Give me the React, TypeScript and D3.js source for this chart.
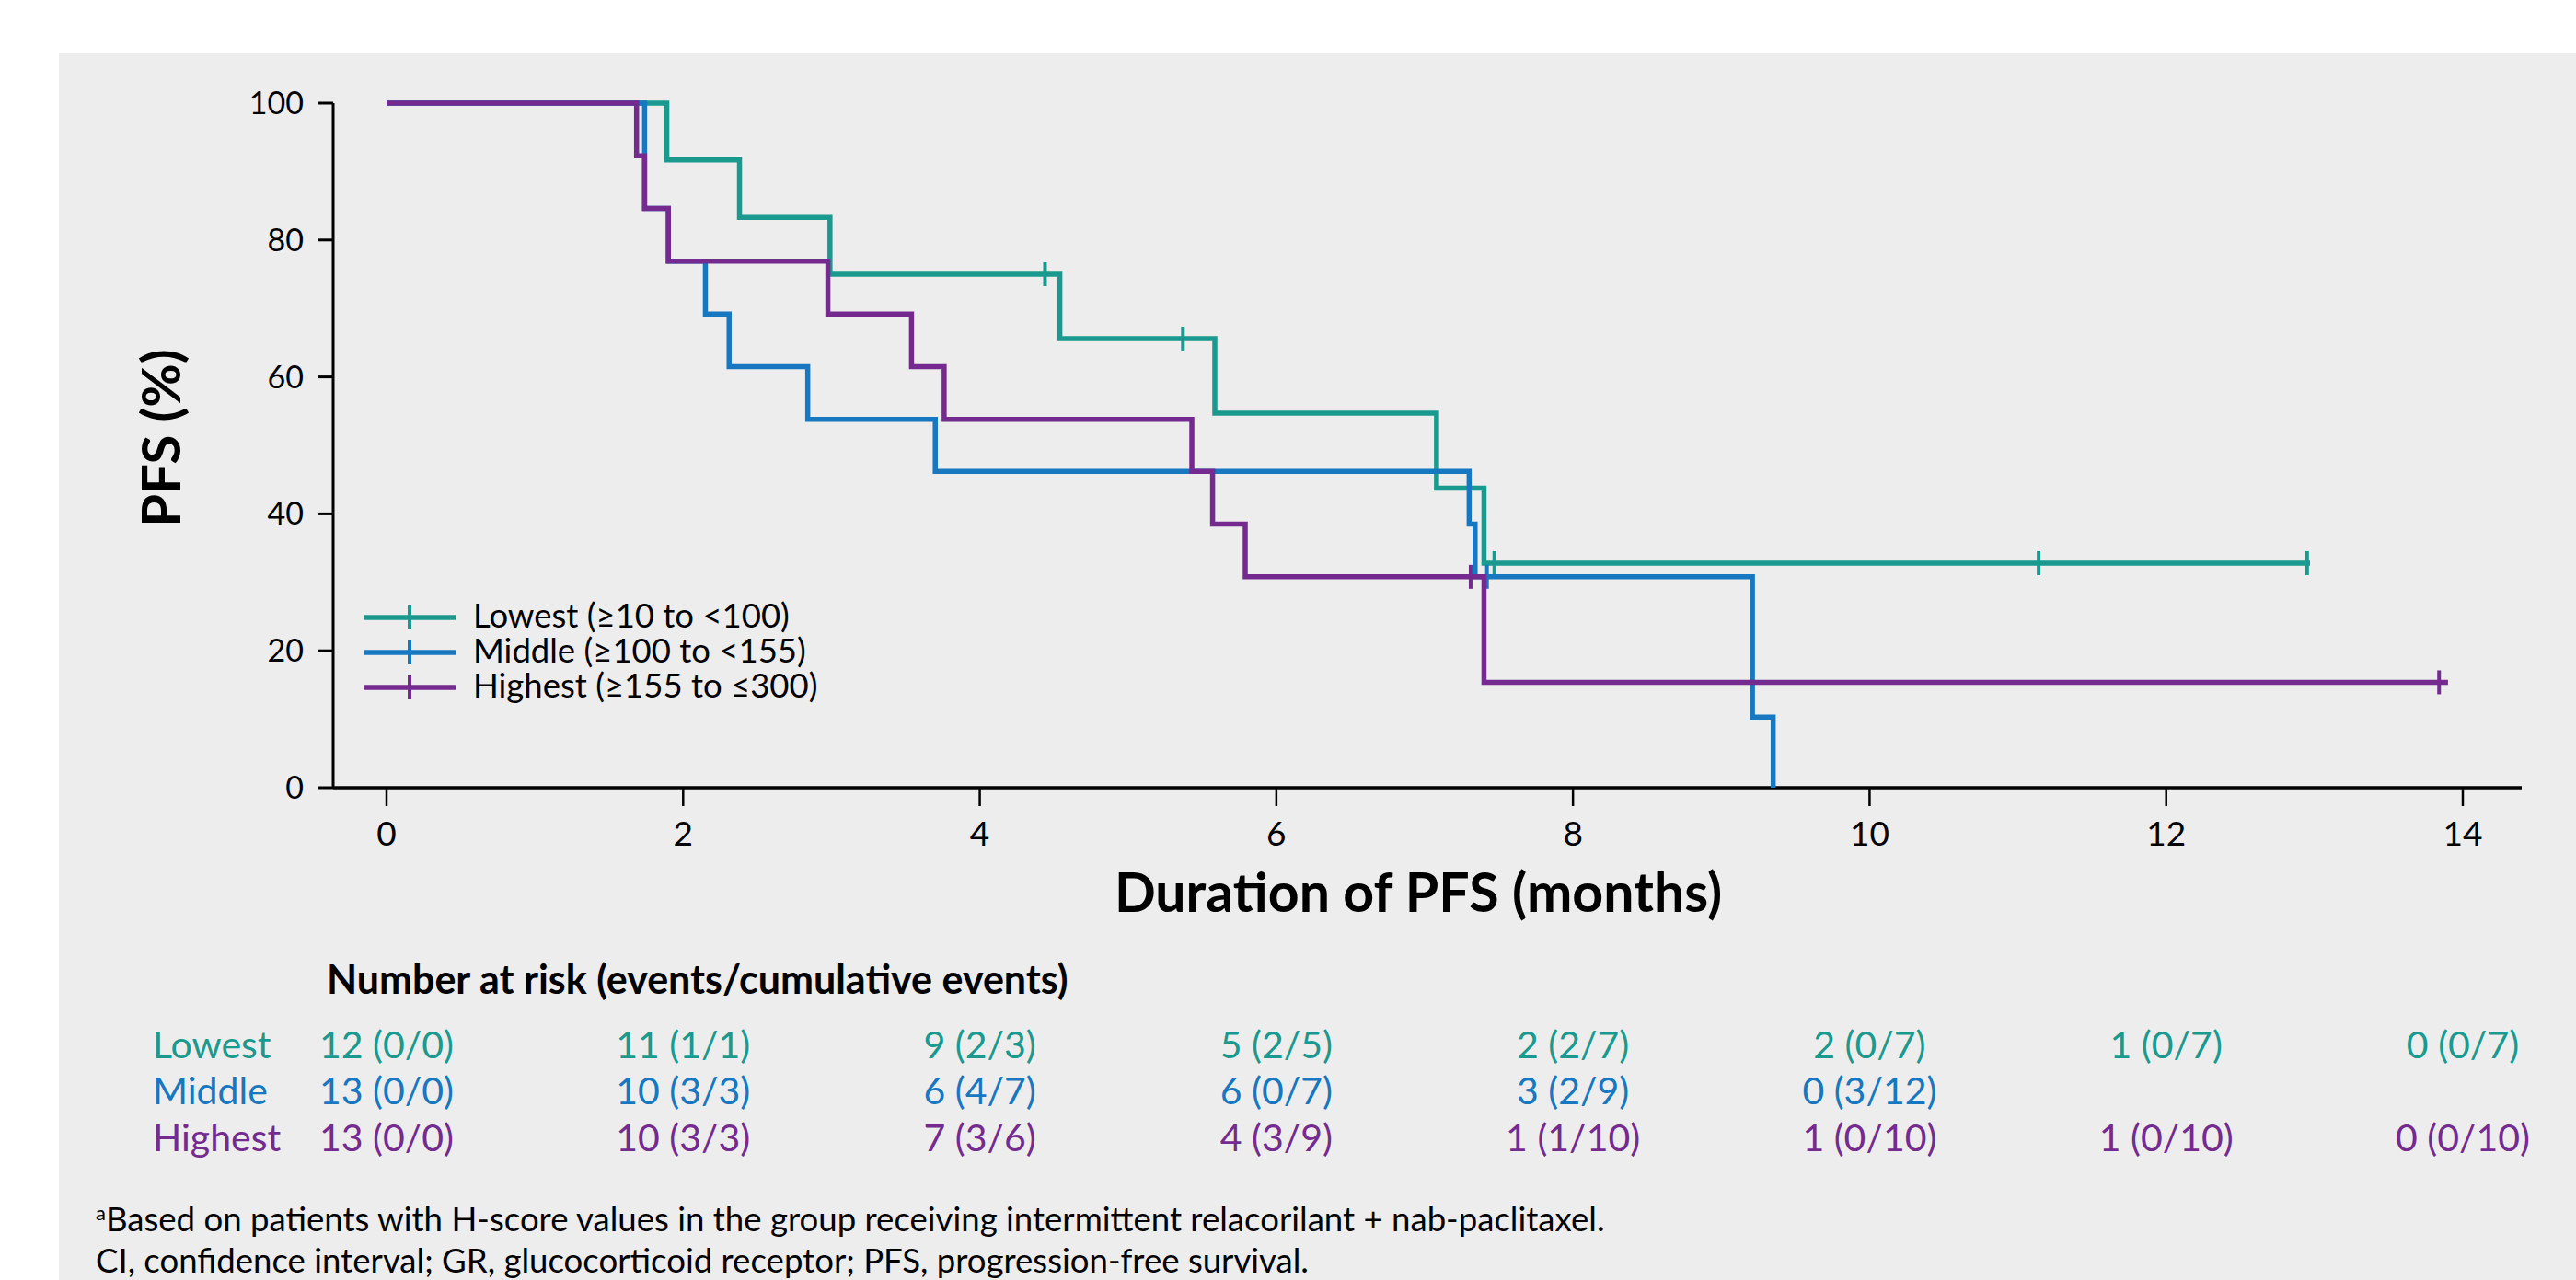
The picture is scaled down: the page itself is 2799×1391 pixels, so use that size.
import React from "react";
import * as d3 from "d3";

const W = 2799;
const H = 1391;

// ---- data ----
const xTicks = [0, 2, 4, 6, 8, 10, 12, 14];
const yTicks = [0, 20, 40, 60, 80, 100];

const lowestTimes = [0, 1.89, 2.38, 2.99, 4.54, 5.585, 7.08, 7.4, 12.97];
const lowestSurv = [100, 91.7, 83.3, 75.0, 65.6, 54.7, 43.75, 32.8, 32.8];
const lowestCensor = [4.44, 5.37, 7.47, 11.14, 12.95];

const middleTimes = [0, 1.74, 1.9, 2.15, 2.31, 2.84, 3.7, 7.3, 7.34, 9.21, 9.35];
const middleSurv = [100, 84.6, 76.9, 69.2, 61.5, 53.8, 46.2, 38.5, 30.8, 10.3, 0];
const middleCensor = [7.42];

const highestTimes = [0, 1.686, 1.74, 1.9, 2.976, 3.54, 3.76, 5.43, 5.57, 5.79, 7.4, 13.9];
const highestSurv = [100, 92.3, 84.6, 76.9, 69.2, 61.5, 53.8, 46.2, 38.5, 30.8, 15.4, 15.4];
const highestCensor = [7.31, 13.84];

const groupNames = ["Lowest", "Middle", "Highest"];
const legendLabels = ["Lowest (≥10 to <100)", "Middle (≥100 to <155)", "Highest (≥155 to ≤300)"];

const lowestRisk = ["12 (0/0)", "11 (1/1)", "9 (2/3)", "5 (2/5)", "2 (2/7)", "2 (0/7)", "1 (0/7)", "0 (0/7)"];
const middleRisk = ["13 (0/0)", "10 (3/3)", "6 (4/7)", "6 (0/7)", "3 (2/9)", "0 (3/12)"];
const highestRisk = ["13 (0/0)", "10 (3/3)", "7 (3/6)", "4 (3/9)", "1 (1/10)", "1 (0/10)", "1 (0/10)", "0 (0/10)"];

const colors = ["#1A9A8F", "#1777C0", "#742A8E"];

const FONT = "Lato, 'Open Sans', sans-serif";

export default function App() {
  const x = d3.scaleLinear().domain([0, 14]).range([420, 2676]);
  const y = d3.scaleLinear().domain([0, 100]).range([856, 112]);

  const series = [
    { times: lowestTimes, surv: lowestSurv, censor: lowestCensor },
    { times: middleTimes, surv: middleSurv, censor: middleCensor },
    { times: highestTimes, surv: highestSurv, censor: highestCensor },
  ];
  const riskRows = [lowestRisk, middleRisk, highestRisk];

  const line = d3
    .line<[number, number]>()
    .x((d) => x(d[0]))
    .y((d) => y(d[1]))
    .curve(d3.curveStepAfter);

  const survAt = (times: number[], surv: number[], t: number) => {
    let v = surv[0];
    for (let i = 0; i < times.length; i++) if (times[i] <= t) v = surv[i];
    return v;
  };

  const axisLeftX = 362;
  const axisRightX = 2740;
  const legendY = [671, 709, 747];
  const riskY = [1150, 1200, 1251];

  return (
    <svg
      width={W}
      height={H}
      style={{ position: "absolute", left: 0, top: 0, fontFamily: FONT }}
    >
      <rect x={0} y={0} width={W} height={H} fill="#FFFFFF" />
      <rect x={64} y={58} width={W - 64} height={H - 58} fill="#EDEDED" />

      {/* y axis */}
      <line x1={axisLeftX} x2={axisLeftX} y1={y(100)} y2={y(0)} stroke="#000" strokeWidth={3} />
      {yTicks.map((t) => (
        <g key={"yt" + t}>
          <line x1={345} x2={axisLeftX} y1={y(t)} y2={y(t)} stroke="#000" strokeWidth={3} />
          <text x={330} y={y(t) + 12} textAnchor="end" fontSize={34} fill="#000">
            {t}
          </text>
        </g>
      ))}

      {/* x axis */}
      <line x1={axisLeftX} x2={axisRightX} y1={y(0)} y2={y(0)} stroke="#000" strokeWidth={3.5} />
      {xTicks.map((t) => (
        <g key={"xt" + t}>
          <line x1={x(t)} x2={x(t)} y1={y(0)} y2={y(0) + 20} stroke="#000" strokeWidth={2.5} />
          <text x={x(t)} y={919} textAnchor="middle" fontSize={37} fill="#000">
            {t}
          </text>
        </g>
      ))}

      {/* axis titles */}
      <text x={1541} y={991} textAnchor="middle" fontSize={59} fontWeight="bold" fill="#000">
        Duration of PFS (months)
      </text>
      <text
        transform={`translate(196,476) rotate(-90)`}
        textAnchor="middle"
        fontSize={58}
        fontWeight="bold"
        fill="#000"
      >
        PFS (%)
      </text>

      {/* curves */}
      {series.map((s, i) => {
        const pts: [number, number][] = s.times.map((t, j) => [t, s.surv[j]]);
        return (
          <g key={"s" + i}>
            <path d={line(pts) || ""} fill="none" stroke={colors[i]} strokeWidth={5.5} />
            {s.censor.map((c, k) => {
              const v = survAt(s.times, s.surv, c);
              return (
                <line
                  key={k}
                  x1={x(c)}
                  x2={x(c)}
                  y1={y(v) - 13}
                  y2={y(v) + 13}
                  stroke={colors[i]}
                  strokeWidth={4}
                />
              );
            })}
          </g>
        );
      })}

      {/* legend */}
      {legendLabels.map((lab, i) => (
        <g key={"lg" + i}>
          <line x1={396} x2={495} y1={legendY[i]} y2={legendY[i]} stroke={colors[i]} strokeWidth={5.5} />
          <line x1={445} x2={445} y1={legendY[i] - 13} y2={legendY[i] + 13} stroke={colors[i]} strokeWidth={4} />
          <text x={514} y={legendY[i] + 11} fontSize={36.5} fill="#000">
            {lab}
          </text>
        </g>
      ))}

      {/* number at risk */}
      <text x={355} y={1080} fontSize={43} fontWeight="bold" fill="#000">
        Number at risk (events/cumulative events)
      </text>
      {riskRows.map((row, i) => (
        <g key={"rr" + i}>
          <text x={166} y={riskY[i]} fontSize={41} fill={colors[i]}>
            {groupNames[i]}
          </text>
          {row.map((v, j) => (
            <text key={j} x={x(xTicks[j])} y={riskY[i]} textAnchor="middle" fontSize={41} fill={colors[i]}>
              {v}
            </text>
          ))}
        </g>
      ))}

      {/* footnotes */}
      <text x={104} y={1338} fontSize={36.6} fill="#000">
        <tspan fontSize={22} dy={-12}>a</tspan>
        <tspan dy={12}>Based on patients with H-score values in the group receiving intermittent relacorilant + nab-paclitaxel.</tspan>
      </text>
      <text x={104} y={1383} fontSize={36.6} fill="#000">
        CI, confidence interval; GR, glucocorticoid receptor; PFS, progression-free survival.
      </text>
    </svg>
  );
}
